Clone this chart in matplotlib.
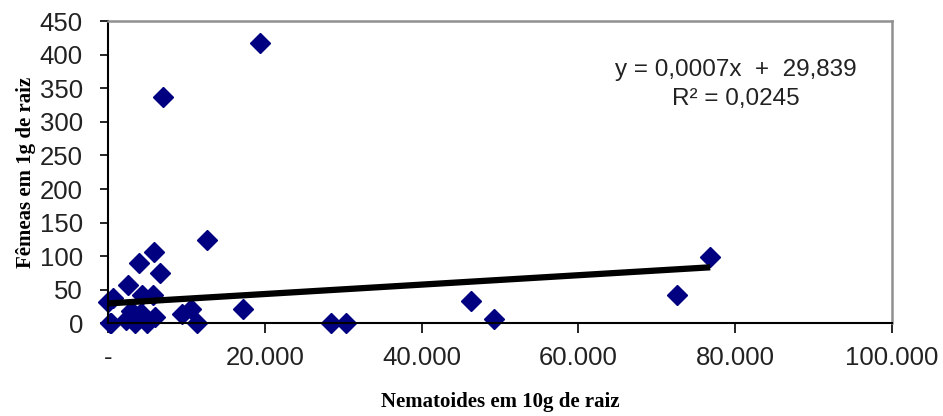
import numpy as np
import matplotlib
matplotlib.use('Agg')
import matplotlib.pyplot as plt

# nematodes in 10 g of root vs females in 1 g of root
nematoides = [0, 700, 400, 200, 2250, 3000, 2600, 3500, 4000, 4300, 4200, 5000,
              5800, 5900, 6000, 6600, 7000, 9400, 10600, 11400, 12600, 17200,
              19400, 28400, 30300, 46300, 49200, 72500, 76800]
femeas = [32, 38, 1, 0, 5, 18, 57, 0, 90, 42, 16, 1,
          42, 106, 9, 75, 337, 14, 21, 0, 124, 21,
          418, 0, 0, 34, 6, 42, 99]

slope = 0.0007
intercept = 29.839
r2 = 0.0245

x_ticks = [0, 20000, 40000, 60000, 80000, 100000]
x_tick_labels = ['-', '20.000', '40.000', '60.000', '80.000', '100.000']
y_ticks = list(range(0, 451, 50))

fig = plt.figure(figsize=(9.43, 4.16), dpi=100)
ax = fig.add_axes([0.1145, 0.2224, 0.8316, 0.727])

xs = np.array([min(nematoides), max(nematoides)])
ax.plot(xs, slope * xs + intercept, color='black', lw=4.5, zorder=3, solid_capstyle='butt')
ax.plot(nematoides, femeas, linestyle='none', marker='D', markersize=10,
        color='#000080', zorder=2, clip_on=False)

ax.set_xlim(0, 100000)
ax.set_ylim(0, 450)
ax.set_xticks(x_ticks)
ax.set_xticklabels(x_tick_labels)
ax.set_yticks(y_ticks)

for lab in ax.get_xticklabels() + ax.get_yticklabels():
    lab.set_fontfamily('Liberation Sans')
    lab.set_fontsize(18.5)
    lab.set_color('#222222')
ax.tick_params(axis='both', direction='out', width=1.2, color='black')
ax.tick_params(axis='x', length=7, pad=9)
ax.tick_params(axis='y', length=6, pad=12)

for side in ['left', 'bottom']:
    ax.spines[side].set_color('black')
    ax.spines[side].set_linewidth(1.5)
for side in ['top', 'right']:
    ax.spines[side].set_color('#909090')
    ax.spines[side].set_linewidth(1.8)

ax.set_xlabel('Nematoides em 10g de raiz', fontfamily='Liberation Serif',
              fontweight='bold', fontsize=15, labelpad=16)
ax.set_ylabel('Fêmeas em 1g de raiz', fontfamily='Liberation Serif',
              fontweight='bold', fontsize=15, labelpad=3)

eq = 'y = 0,0007x  +  29,839\nR² = 0,0245'
ax.text(0.80, 0.79, eq, transform=ax.transAxes, ha='center', va='center',
        fontfamily='Liberation Sans', fontsize=17.5, linespacing=1.4, color='#222222')

plt.savefig('out.png', dpi=100)
